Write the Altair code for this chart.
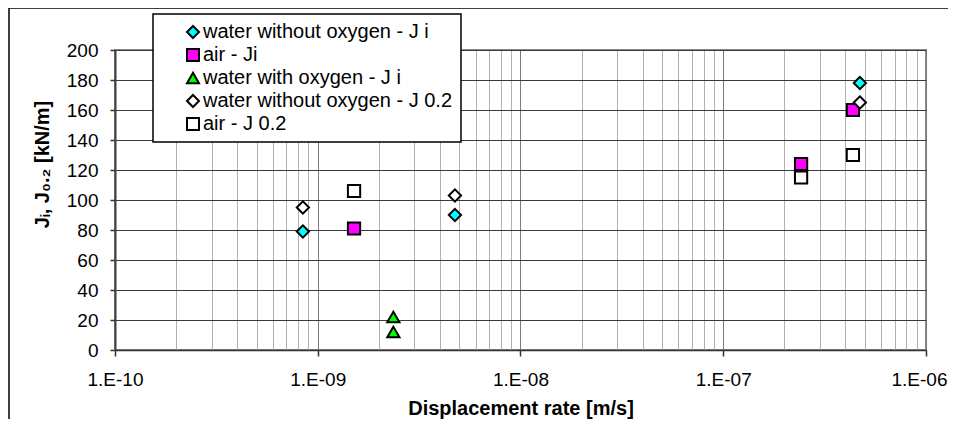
import altair as alt
import pandas as pd

# ---- data ----
series_names = [
    "water without oxygen - J i",
    "air - Ji",
    "water with oxygen - J i",
    "water without oxygen - J 0.2",
    "air - J 0.2",
]
wo_ji_x = [8.45e-10, 4.75e-9, 4.72e-7]
wo_ji_y = [79, 90, 178]
air_ji_x = [1.51e-9, 2.42e-7, 4.36e-7]
air_ji_y = [81, 124, 160]
wox_ji_x = [2.36e-9, 2.36e-9]
wox_ji_y = [22, 12]
wo_j02_x = [8.45e-10, 4.75e-9, 4.72e-7]
wo_j02_y = [95, 103, 165]
air_j02_x = [1.51e-9, 2.42e-7, 4.36e-7]
air_j02_y = [106, 115, 130]

decade_exps = [-10, -9, -8, -7, -6]
decade_labels = ["1.E-10", "1.E-09", "1.E-08", "1.E-07", "1.E-06"]
y_ticks = [0, 20, 40, 60, 80, 100, 120, 140, 160, 180, 200]

shapes = ["diamond", "square", "triangle-up", "diamond", "square"]
fills = ["#00FFFF", "#FF00FF", "#00FF00", "#FFFFFF", "#FFFFFF"]
outlines = ["#000000", "#000000", "#000000", "#000000", "#000000"]

# ---- build table ----
rows = []
for name, xs, ys in zip(
    series_names,
    [wo_ji_x, air_ji_x, wox_ji_x, wo_j02_x, air_j02_x],
    [wo_ji_y, air_ji_y, wox_ji_y, wo_j02_y, air_j02_y],
):
    for xv, yv in zip(xs, ys):
        rows.append({"series": name, "rate": xv, "J": yv})
df = pd.DataFrame(rows)

x_grid_values = []
for e in decade_exps[:-1]:
    for m in range(1, 10):
        x_grid_values.append(float(f"{m}e{e}"))
x_grid_values.append(float(f"1e{decade_exps[-1]}"))

is_decade = "abs(log(datum.value)/LN10 - round(log(datum.value)/LN10)) < 0.0001"
label_expr = (
    f"{is_decade} ? {decade_labels}[round(log(datum.value)/LN10) + 10] : ''"
)

W, H = 811, 300

points = (
    alt.Chart(df)
    .mark_point(filled=True, size=150, strokeWidth=2, opacity=1)
    .encode(
        x=alt.X(
            "rate:Q",
            scale=alt.Scale(type="log", domain=[1e-10, 1e-6], nice=False),
            axis=alt.Axis(
                values=x_grid_values,
                labelExpr=label_expr,
                title="Displacement rate [m/s]",
                grid=True,
                gridColor={"condition": {"test": is_decade, "value": "#7a7a7a"}, "value": "#b0b0b0"},
                gridWidth=1,
                tickOpacity={"condition": {"test": is_decade, "value": 1}, "value": 0},
                tickColor="#333333",
                tickSize=6,
                tickWidth=1.5,
                labelPadding=14,
                labelFontSize=19,
                labelColor="black",
                labelFlush=False,
                labelOverlap=False,
                labelOffset={"condition": {"test": "datum.value > 9.9e-7", "value": -7}, "value": 0},
                domainColor="#333333",
                domainWidth=1.5,
                titleFontSize=20,
                titleFontWeight="bold",
                titleColor="black",
                titleBaseline="alphabetic",
                titleY=64,
            ),
        ),
        y=alt.Y(
            "J:Q",
            scale=alt.Scale(domain=[0, 200], nice=False),
            axis=alt.Axis(
                values=y_ticks,
                title="Jᵢ, J₀.₂ [kN/m]",
                grid=True,
                gridColor="#3a3a3a",
                gridWidth=1,
                tickColor="#333333",
                tickSize=5,
                tickWidth=1.5,
                labelPadding=12,
                labelFontSize=19,
                labelColor="black",
                domainColor="#404040",
                domainWidth=2,
                titleFontSize=20,
                titleFontWeight="bold",
                titleColor="black",
                titleAngle=270,
                titleBaseline="alphabetic",
                titleAlign="center",
                titleX=-67,
                titleY=114,
            ),
        ),
        fill=alt.Fill(
            "series:N",
            scale=alt.Scale(domain=series_names, range=fills),
            legend=alt.Legend(title=None),
        ),
        shape=alt.Shape(
            "series:N",
            scale=alt.Scale(domain=series_names, range=shapes),
            legend=alt.Legend(title=None),
        ),
        stroke=alt.Stroke(
            "series:N",
            scale=alt.Scale(domain=series_names, range=outlines),
            legend=alt.Legend(title=None),
        ),
    )
)

frame_df = pd.DataFrame({"k": [0]})
frame = (
    alt.Chart(frame_df)
    .mark_rect(fillOpacity=0, stroke="black", strokeWidth=1.5)
    .encode(
        x=alt.value(-106),
        x2=alt.value(W + 60),
        y=alt.value(-42),
        y2=alt.value(H + 100),
    )
)

chart = (
    alt.layer(frame, points)
    .properties(
        width=W,
        height=H,
        autosize=alt.AutoSizeParams(type="none"),
        padding={"left": 107, "top": 42, "right": 22, "bottom": 69},
        background="white",
    )
    .configure(font="Liberation Sans")
    .configure_view(stroke="#8a8a8a", strokeWidth=2)
    .configure_legend(
        orient="none",
        legendX=38,
        legendY=-36,
        fillColor="white",
        strokeColor="black",
        strokeWidth=1.5,
        padding=8,
        labelFontSize=20,
        labelColor="black",
        symbolSize=144,
        symbolStrokeWidth=2,
        symbolOffset=22,
        labelOffset=0,
        rowPadding=3,
        labelLimit=400,
    )
)

chart.save("out.html", embed_options={"renderer": "svg", "actions": False})
